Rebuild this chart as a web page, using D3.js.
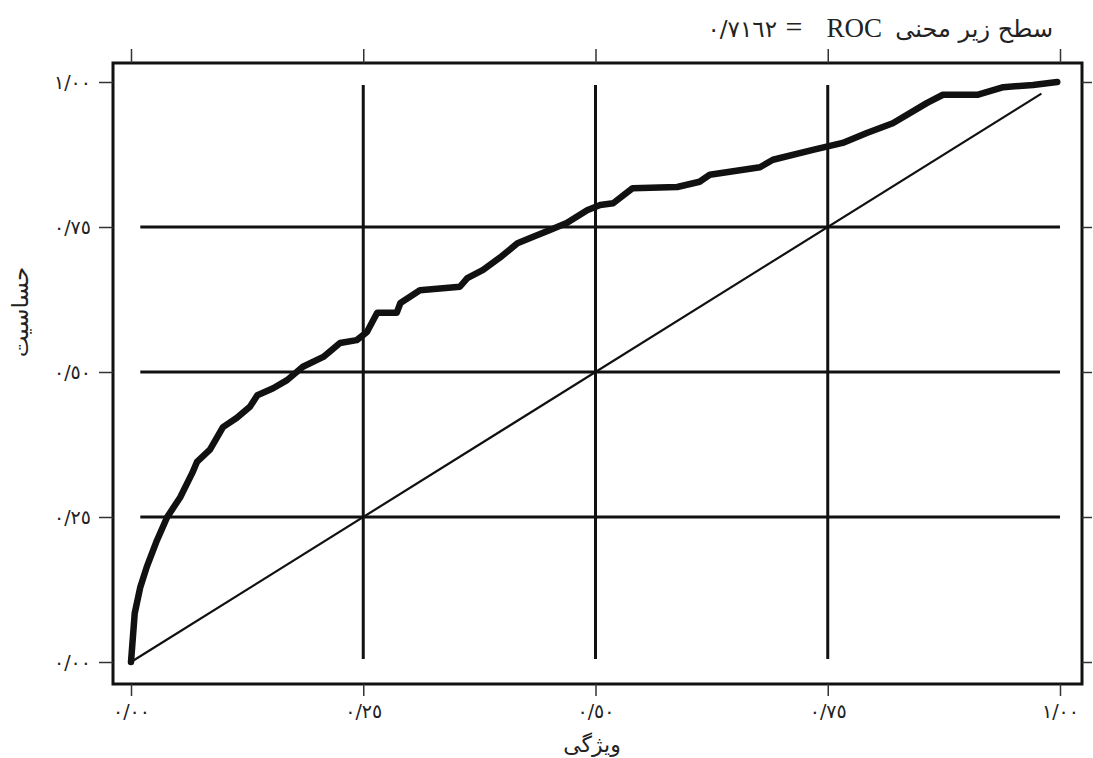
<!DOCTYPE html>
<html>
<head>
<meta charset="utf-8">
<script src="https://cdn.jsdelivr.net/npm/d3@7"></script>
<style>
  html, body { margin: 0; padding: 0; background: #fff; }
  svg { display: block; }
</style>
</head>
<body>
<svg id="chart" width="1093" height="758"></svg>
<script>
// ---- data ----
const rocFpr = [0.000, 0.004, 0.010, 0.017, 0.028, 0.039, 0.053, 0.066, 0.071, 0.085, 0.099, 0.114, 0.128, 0.136, 0.153, 0.168,
  0.185, 0.207, 0.225, 0.243, 0.254, 0.265, 0.286, 0.290, 0.311, 0.354, 0.362, 0.379, 0.397, 0.416, 0.433, 0.451, 0.469,
  0.491, 0.505, 0.519, 0.540, 0.588, 0.612, 0.623, 0.677, 0.691, 0.734, 0.766, 0.792, 0.820, 0.857, 0.874, 0.911, 0.939, 0.971, 0.997];
const rocTpr = [0.000, 0.084, 0.129, 0.164, 0.210, 0.250, 0.284, 0.326, 0.345, 0.366, 0.405, 0.421, 0.440, 0.460, 0.472, 0.486,
  0.509, 0.526, 0.550, 0.555, 0.569, 0.602, 0.602, 0.619, 0.641, 0.647, 0.662, 0.676, 0.697, 0.722, 0.733, 0.745, 0.757,
  0.779, 0.788, 0.791, 0.817, 0.819, 0.828, 0.840, 0.853, 0.866, 0.883, 0.895, 0.912, 0.929, 0.964, 0.978, 0.978, 0.991, 0.995, 1.000];
const diagonal = [0, 0.98];
const tickValues = [0, 0.25, 0.5, 0.75, 1];
const tickLabels = ["٠/٠٠", "٠/٢٥", "٠/٥٠", "٠/٧٥", "١/٠٠"];
const gridValues = [0.25, 0.5, 0.75];
const titleText = "سطح زیر محنی";
const titleRoc = "ROC";
const titleValue = "٠/٧١٦٢";
const xLabel = "ویژگی";
const yLabel = "حساسیت";

// ---- layout ----
const svg = d3.select("#chart");
const x = d3.scaleLinear().domain([0, 1]).range([131, 1060]);
const y = d3.scaleLinear().domain([0, 1]).range([662, 82]);
const frame = { left: 113, top: 63, right: 1082, bottom: 684 };
const ink = "#111";

// grid lines
svg.append("g").selectAll("line.h").data(gridValues).join("line")
  .attr("x1", x(0.01)).attr("x2", x(1.0))
  .attr("y1", d => y(d)).attr("y2", d => y(d))
  .attr("stroke", ink).attr("stroke-width", 3);
svg.append("g").selectAll("line.v").data(gridValues).join("line")
  .attr("x1", d => x(d)).attr("x2", d => x(d))
  .attr("y1", y(0.005)).attr("y2", y(0.995))
  .attr("stroke", ink).attr("stroke-width", 3);

// diagonal
svg.append("line")
  .attr("x1", x(diagonal[0])).attr("y1", y(diagonal[0]))
  .attr("x2", x(diagonal[1])).attr("y2", y(diagonal[1]))
  .attr("stroke", ink).attr("stroke-width", 2.2);

// ROC curve
const pts = rocFpr.map((v, i) => [v, rocTpr[i]]);
svg.append("path")
  .attr("d", d3.line().x(d => x(d[0])).y(d => y(d[1])).curve(d3.curveLinear)(pts))
  .attr("fill", "none").attr("stroke", ink).attr("stroke-width", 6.5)
  .attr("stroke-linejoin", "round").attr("stroke-linecap", "round");

// frame
svg.append("rect")
  .attr("x", frame.left).attr("y", frame.top)
  .attr("width", frame.right - frame.left).attr("height", frame.bottom - frame.top)
  .attr("fill", "none").attr("stroke", ink).attr("stroke-width", 3);

// axes (ticks outward)
const tickFont = "'DejaVu Sans', sans-serif";
const gBottom = svg.append("g").attr("transform", `translate(0,${frame.bottom})`)
  .call(d3.axisBottom(x).tickValues(tickValues).tickSize(12).tickPadding(9).tickFormat((d, i) => tickLabels[i]));
const gTop = svg.append("g").attr("transform", `translate(0,${frame.top})`)
  .call(d3.axisTop(x).tickValues(tickValues).tickSize(14).tickFormat(""));
const gLeft = svg.append("g").attr("transform", `translate(${frame.left},0)`)
  .call(d3.axisLeft(y).tickValues(tickValues).tickSize(14).tickPadding(8).tickFormat((d, i) => tickLabels[i]));
const gRight = svg.append("g").attr("transform", `translate(${frame.right},0)`)
  .call(d3.axisRight(y).tickValues(tickValues).tickSize(10).tickFormat(""));
[gBottom, gTop, gLeft, gRight].forEach(g => {
  g.select(".domain").remove();
  g.selectAll(".tick line").attr("stroke", "#333").attr("stroke-width", 1.5);
  g.selectAll(".tick text").attr("fill", "#222").attr("font-family", tickFont)
    .attr("font-size", 19).attr("letter-spacing", 3);
});

// axis titles
svg.append("text").text(xLabel)
  .attr("x", 592).attr("y", 752).attr("text-anchor", "middle")
  .attr("font-family", "'DejaVu Sans', sans-serif").attr("font-size", 22).attr("fill", "#222");
svg.append("text").text(yLabel)
  .attr("transform", "translate(28,312) rotate(-90)").attr("text-anchor", "middle")
  .attr("font-family", "'DejaVu Sans', sans-serif").attr("font-size", 23).attr("fill", "#222");

// title pieces
svg.append("text").text(titleText)
  .attr("x", 1053).attr("y", 37).attr("text-anchor", "end")
  .attr("font-family", "'DejaVu Sans', sans-serif").attr("font-size", 24).attr("fill", "#222");
svg.append("text").text(titleRoc)
  .attr("x", 882).attr("y", 37).attr("text-anchor", "end")
  .attr("font-family", "'Liberation Serif', serif").attr("font-size", 27).attr("fill", "#222");
svg.append("text").text("=")
  .attr("x", 794).attr("y", 37).attr("text-anchor", "middle")
  .attr("font-family", "'Liberation Serif', serif").attr("font-size", 30).attr("fill", "#222");
svg.append("text").text(titleValue)
  .attr("x", 777).attr("y", 37).attr("text-anchor", "end")
  .attr("font-family", "'DejaVu Sans', sans-serif").attr("font-size", 23).attr("fill", "#222");
</script>
</body>
</html>
